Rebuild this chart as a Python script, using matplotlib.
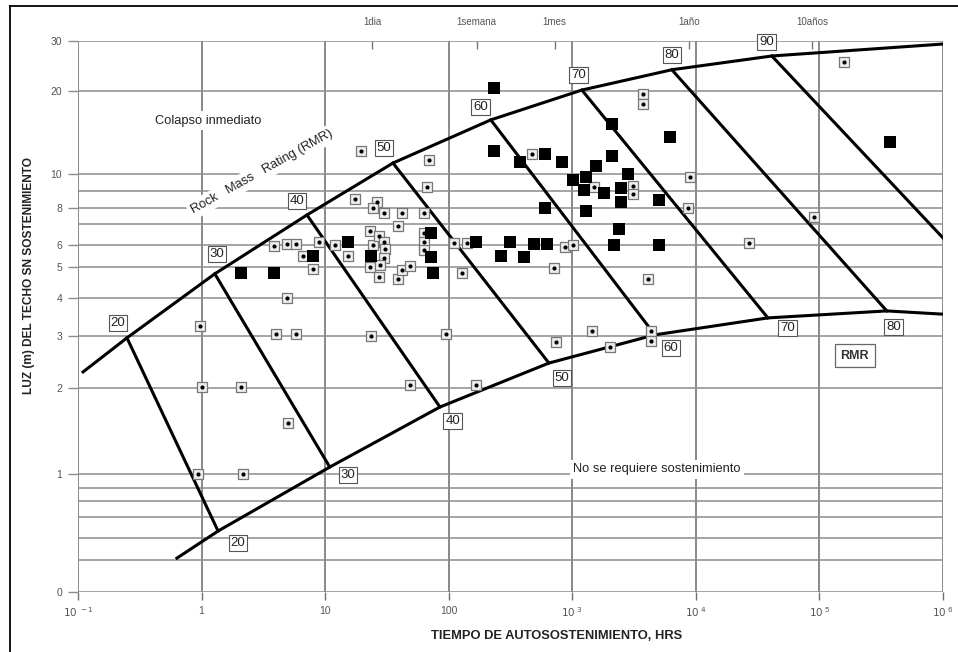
import numpy as np
import matplotlib
matplotlib.use('Agg')
import matplotlib.pyplot as plt
from matplotlib.lines import Line2D
from matplotlib.ticker import NullLocator, NullFormatter

plt.rcParams['font.family'] = ['Liberation Sans', 'DejaVu Sans']

# ---------------- data ----------------
# filled squares (time in hours, span in m)
filled_t = [2.08, 3.85, 8.0, 15.3, 23.5, 71.8, 71.8, 74.5, 166, 232, 232, 313, 264, 380, 406,
            489, 606, 606, 623, 832, 1020, 1241, 1300, 1300, 1553, 1803, 2110, 2110, 2190, 2382,
            2496, 2496, 2818, 5020, 5020, 6166, 371500]
filled_L = [4.81, 4.81, 5.48, 6.13, 5.48, 6.53, 5.43, 4.81, 6.13, 20.4, 12.1, 6.13, 5.48, 11.1, 5.43,
            6.04, 11.8, 8.04, 6.04, 11.1, 9.65, 9.05, 9.83, 7.82, 10.7, 8.88, 15.2, 11.6, 6.0, 6.75,
            9.15, 8.35, 10.0, 8.48, 6.0, 13.6, 13.1]

# open squares with a dot
dot_t = [0.97, 1.01, 2.08, 0.935, 2.16, 5.0, 4.9, 4.0, 5.8, 23.5, 94.9, 48.5, 166,
         3.85, 4.9, 5.8, 6.6, 8.0, 8.9, 12.0, 15.3, 17.4, 19.5, 23.0, 24.4, 23.0, 26.2, 24.4,
         29.9, 27.2, 29.9, 30.5, 29.9, 27.8, 27.2, 38.8, 41.8, 38.8, 41.8, 48.5, 63, 66.7, 69.2,
         63, 63, 63, 128, 110, 140, 475, 710, 871, 1020, 737, 1442, 2015, 4325, 4325, 1496,
         3121, 3121, 3724, 3724, 4090, 8940, 8610, 26850, 90100, 157400]
dot_L = [3.24, 2.02, 2.02, 1.0, 1.0, 1.51, 4.0, 3.05, 3.05, 3.0, 3.05, 2.05, 2.05,
         5.95, 6.04, 6.04, 5.48, 4.94, 6.13, 6.0, 5.48, 8.52, 12.1, 6.67, 6.0, 5.0, 8.35, 8.0,
         7.69, 6.41, 6.13, 5.81, 5.39, 5.09, 4.65, 6.9, 7.69, 4.59, 4.90, 5.05, 7.69, 9.23, 11.3,
         6.53, 6.13, 5.76, 4.81, 6.09, 6.09, 11.8, 4.98, 5.90, 6.0, 2.85, 3.12, 2.75, 3.12, 2.88, 9.23,
         9.3, 8.82, 19.5, 17.9, 4.59, 9.83, 8.0, 6.09, 7.42, 25.3]

# upper boundary (immediate collapse) and lower boundary (no support)
upper_t = [0.11, 0.249, 1.28, 7.13, 35.4, 219, 1196, 6397, 41200, 1.0e6]
upper_L = [2.27, 2.95, 4.77, 7.56, 10.98, 15.7, 20.1, 23.7, 26.5, 29.2]
lower_t = [0.632, 1.36, 10.9, 84.9, 647, 4660, 38280, 350800, 1.0e6]
lower_L = [0.508, 0.632, 1.06, 1.72, 2.43, 3.02, 3.44, 3.63, 3.54]

# RMR lines: from upper to lower boundary
rmr_values = [20, 30, 40, 50, 60, 70, 80, 90]
rmr_top_t = [0.249, 1.28, 7.13, 35.4, 219, 1196, 6397, 41200]
rmr_top_L = [2.95, 4.77, 7.56, 10.98, 15.7, 20.1, 23.7, 26.5]
rmr_bot_t = [1.36, 10.9, 84.9, 647, 4660, 38280, 350800, 1.0e6]
rmr_bot_L = [0.632, 1.06, 1.72, 2.43, 3.02, 3.44, 3.63, 6.32]

# RMR label positions
top_lab_t = [0.211, 1.33, 5.91, 29.9, 182, 1130, 6397, 37500]
top_lab_L = [3.31, 5.57, 8.41, 12.4, 17.5, 22.7, 26.7, 29.7]
bot_lab_vals = [20, 30, 40, 50, 60, 70, 80]
bot_lab_t = [1.97, 15.3, 108, 824, 6280, 55500, 400000]
bot_lab_L = [0.577, 0.995, 1.54, 2.17, 2.73, 3.18, 3.21]

# axis ticks
x_ticks = [0.1, 1, 10, 100, 1e3, 1e4, 1e5, 1e6]
x_labels = [r'$10^{\ -1}$', '1', '10', '100', r'$10^{\ 3}$', r'$10^{\ 4}$', r'$10^{\ 5}$', r'$10^{\ 6}$']
y_major = [0.4, 1, 2, 3, 4, 5, 6, 8, 10, 20, 30]
y_labels = ['0', '1', '2', '3', '4', '5', '6', '8', '10', '20', '30']
y_minor = [0.5, 0.6, 0.7, 0.8, 0.9, 7, 9]
time_ticks = [24, 168, 720, 8760, 87600]
time_labels = ['1dia', '1semana', '1mes', '1año', '10años']

# vertical scale of the original chart (grid values and their relative height)
scale_values = [0.4, 0.5, 0.6, 0.7, 0.8, 0.9, 1, 2, 3, 4, 5, 6, 7, 8, 9, 10, 20, 30]
scale_fraction = [0.0, 0.0575, 0.0969, 0.1361, 0.1646, 0.1887, 0.2131, 0.3691, 0.4646,
                  0.5325, 0.5888, 0.6292, 0.6673, 0.6958, 0.7272, 0.7575, 0.9093, 1.0]

LOGV = np.log10(scale_values)
FR = np.array(scale_fraction)
s_lo = (FR[1] - FR[0]) / (LOGV[1] - LOGV[0])
s_hi = (FR[-1] - FR[-2]) / (LOGV[-1] - LOGV[-2])


def fwd(v):
    v = np.asarray(v, dtype=float)
    lv = np.log10(np.clip(v, 1e-12, None))
    out = np.interp(lv, LOGV, FR)
    out = np.where(lv < LOGV[0], FR[0] + (lv - LOGV[0]) * s_lo, out)
    out = np.where(lv > LOGV[-1], FR[-1] + (lv - LOGV[-1]) * s_hi, out)
    return out


def inv(p):
    p = np.asarray(p, dtype=float)
    out = np.interp(p, FR, LOGV)
    out = np.where(p < FR[0], LOGV[0] + (p - FR[0]) / s_lo, out)
    out = np.where(p > FR[-1], LOGV[-1] + (p - FR[-1]) / s_hi, out)
    return 10 ** out


# ---------------- figure ----------------
W, H = 958, 652
fig = plt.figure(figsize=(W / 100, H / 100), dpi=100)
ax = fig.add_axes([78 / W, 1 - 591.7 / H, 865 / W, 551 / H])
ax.set_xscale('log')
ax.set_yscale('function', functions=(fwd, inv))
ax.set_xlim(0.1, 1e6)
ax.set_ylim(0.4, 30)

for s in ax.spines.values():
    s.set_visible(False)

ax.set_xticks(x_ticks, labels=x_labels)
ax.xaxis.set_minor_locator(NullLocator())
ax.set_yticks(y_major, labels=y_labels)
ax.set_yticks(y_minor, minor=True)
ax.yaxis.set_minor_formatter(NullFormatter())
ax.tick_params(axis='y', which='major', length=7.5, width=1.0, color='#8c8c8c',
               labelsize=7.5, labelcolor='#555555', pad=4)
ax.tick_params(axis='y', which='minor', length=0)
ax.tick_params(axis='x', which='major', length=6, width=1.0, color='#6f6f6f',
               labelsize=7.5, labelcolor='#555555', pad=4)
ax.grid(True, which='major', axis='x', color='#6a6a6a', lw=1.1)
ax.grid(True, which='both', axis='y', color='#8c8c8c', lw=1.1)
ax.set_axisbelow(True)

sec = ax.secondary_xaxis('top')
sec.set_xticks(time_ticks, labels=time_labels)
sec.xaxis.set_minor_locator(NullLocator())
sec.tick_params(direction='in', length=6, width=1.0, color='#777777',
                labelsize=7, labelcolor='#555555', pad=10)
for s in sec.spines.values():
    s.set_visible(False)

# boundaries and RMR lines
ax.plot(upper_t, upper_L, color='black', lw=2.2, zorder=3, solid_joinstyle='round')
ax.plot(lower_t, lower_L, color='black', lw=2.2, zorder=3, solid_joinstyle='round')
for i in range(len(rmr_values)):
    ax.plot([rmr_top_t[i], rmr_bot_t[i]], [rmr_top_L[i], rmr_bot_L[i]],
            color='black', lw=2.2, zorder=3)

# data points
ax.scatter(dot_t, dot_L, marker='s', s=6.8 ** 2, facecolor='#eeeeee',
           edgecolor='#777777', lw=0.9, zorder=4)
ax.scatter(dot_t, dot_L, marker='o', s=3.0 ** 2, color='black', lw=0, zorder=5)
ax.scatter(filled_t, filled_L, marker='s', s=8.5 ** 2, color='black', lw=0, zorder=5)

# RMR labels
box = dict(boxstyle='square,pad=0.15', fc='white', ec='#555555', lw=0.8)
for v, t, L in zip(rmr_values, top_lab_t, top_lab_L):
    ax.text(t, L, str(v), ha='center', va='center', fontsize=9.5, color='#222222',
            bbox=box, zorder=6, clip_on=False)
for v, t, L in zip(bot_lab_vals, bot_lab_t, bot_lab_L):
    ax.text(t, L, str(v), ha='center', va='center', fontsize=9.5, color='#222222',
            bbox=box, zorder=6)
ax.text(193000, 2.57, 'RMR', ha='center', va='center', fontsize=9, fontweight='bold',
        color='#333333', bbox=dict(boxstyle='square,pad=0.45', fc='white', ec='#666666', lw=0.9),
        zorder=6)

wbox = dict(boxstyle='square,pad=0.25', fc='white', ec='none')
ax.text(1.13, 15.6, 'Colapso inmediato', ha='center', va='center', fontsize=9.3,
        color='#222222', bbox=wbox, zorder=2.5)
ax.text(3.08, 10.2, 'Rock   Mass   Rating (RMR)', ha='center', va='center', fontsize=9.3,
        color='#222222', rotation=29.2, rotation_mode='anchor', bbox=wbox, zorder=2.5)
ax.text(4830, 1.04, 'No se requiere sostenimiento', ha='center', va='center', fontsize=9.3,
        color='#222222', bbox=wbox, zorder=2.5)

# axis titles
fig.text(557 / W, 1 - 636 / H, 'TIEMPO DE AUTOSOSTENIMIENTO, HRS', ha='center', va='center',
         fontsize=9.3, fontweight='bold', color='#222222')
fig.text(29 / W, 1 - 275 / H, 'LUZ (m) DEL TECHO SN SOSTENIMIENTO', ha='center', va='center',
         rotation=90, fontsize=8.6, fontweight='bold', color='#222222')

# outer frame (top and left edges)
fig.add_artist(Line2D([10 / W, 1.0], [1 - 6 / H, 1 - 6 / H], transform=fig.transFigure,
                      color='black', lw=1.3))
fig.add_artist(Line2D([10 / W, 10 / W], [0.0, 1 - 6 / H], transform=fig.transFigure,
                      color='black', lw=1.3))

fig.savefig('out.png', dpi=100, facecolor='white')
